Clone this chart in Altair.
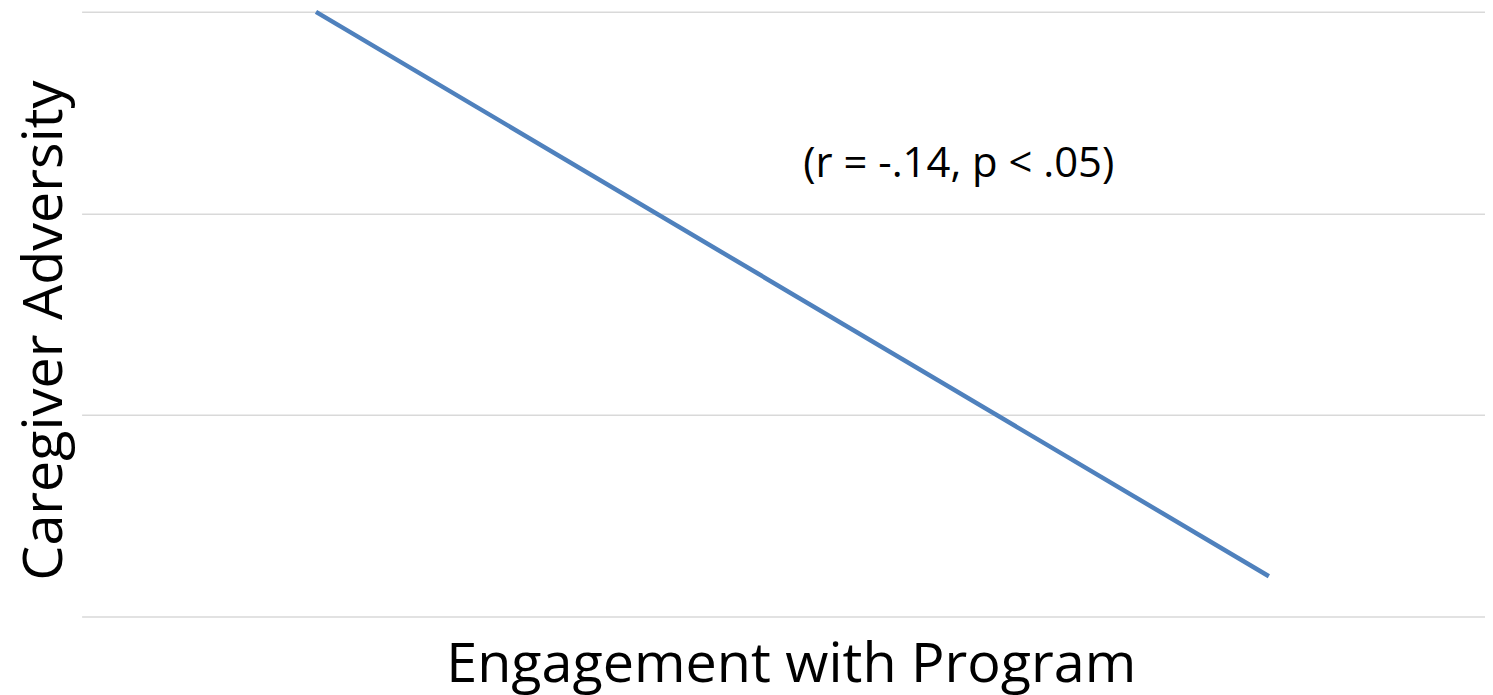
import altair as alt
import pandas as pd

engagement = [1.67, 8.46]
adversity = [3.0, 0.2]
note_text = ["(r = -.14, p < .05)"]
note_x = [6.25]
note_y = [2.245]

line_df = pd.DataFrame({"Engagement": engagement, "Adversity": adversity})
note_df = pd.DataFrame({"x": note_x, "y": note_y, "label": note_text})

xscale = alt.Scale(domain=[0, 10], nice=False, zero=False)
yscale = alt.Scale(domain=[0, 3], nice=False)

line = alt.Chart(line_df).mark_line(color="#4F81BD", strokeWidth=4.5).encode(
    x=alt.X("Engagement:Q", scale=xscale,
            axis=alt.Axis(title="Engagement with Program", labels=False, ticks=False,
                          domain=False, grid=False, titleFontSize=56,
                          titleFont="Open Sans", titleFontWeight="normal",
                          titleColor="#000000", titlePadding=21, titleX=713)),
    y=alt.Y("Adversity:Q", scale=yscale,
            axis=alt.Axis(title="Caregiver Adversity", labels=False, ticks=False,
                          domain=False, grid=True, gridColor="#d9d9d9", gridWidth=1.5,
                          values=[0, 1, 2, 3], titleFontSize=56,
                          titleFont="Open Sans", titleFontWeight="normal",
                          titleColor="#000000", titlePadding=8, titleY=320)),
)

note = alt.Chart(note_df).mark_text(font="Open Sans", fontSize=42, color="#000000").encode(
    x=alt.X("x:Q", scale=xscale),
    y=alt.Y("y:Q", scale=yscale),
    text="label:N",
)

chart = (line + note).properties(
    width=1411, height=608,
    autosize=alt.AutoSizeParams(type="none"),
    padding={"left": 74, "top": 2, "right": 0, "bottom": 80},
).configure_view(stroke=None)

chart.save("out.html", embed_options={"renderer": "svg", "actions": False})
